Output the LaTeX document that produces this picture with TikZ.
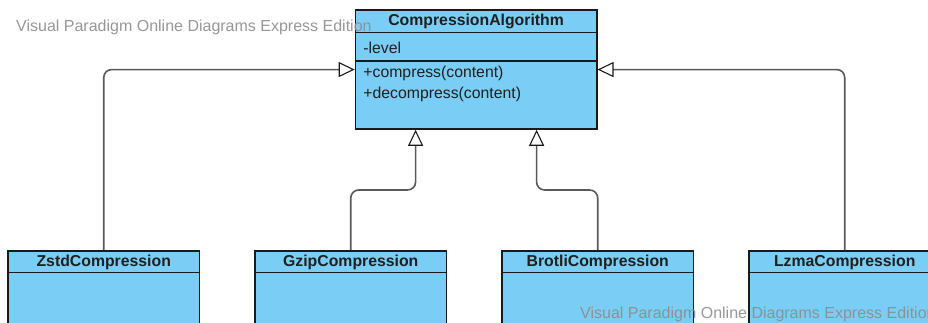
\documentclass[tikz,border=0pt]{standalone}
\usepackage{fontspec}
\setmainfont{Liberation Sans}
\usetikzlibrary{arrows.meta,calc}

\definecolor{classfill}{RGB}{122,206,245}
\definecolor{classedge}{RGB}{26,26,26}
\definecolor{linkgray}{RGB}{90,90,90}
\definecolor{markgray}{RGB}{140,140,140}

\tikzset{
  classbox/.style={draw=classedge, fill=classfill, line width=1.5pt,
    rectangle, inner sep=0pt, anchor=north west},
  divider/.style={draw=classedge, line width=1.5pt},
  titletext/.style={font=\fontsize{15.8}{18}\selectfont\bfseries,
    text=black!88, inner sep=0pt, anchor=base},
  membertext/.style={font=\fontsize{15.8}{18}\selectfont,
    text=black!88, inner sep=0pt, anchor=base west},
  inherit/.style={draw=linkgray, line width=1.6pt, rounded corners=8pt,
    -{Triangle[length=16pt, width=15pt, fill=white, color=classedge, line width=1.1pt]}},
  watermark/.style={font=\fontsize{16}{18}\selectfont, text=markgray,
    inner sep=0pt, anchor=base west, opacity=0.9}
}

\begin{document}
\begin{tikzpicture}[x=1pt, y=-1pt]
\useasboundingbox (0,0) rectangle (928,322);
\fill[white] (0,0) rectangle (928,322);
\clip (0,0) rectangle (928,322);

% abstract base class
\node[classbox, minimum width=241.3pt, minimum height=119pt] (ca) at (354.7,9.3) {};
\draw[divider] ($(ca.north west)+(0,23.4)$) -- ($(ca.north east)+(0,23.4)$);
\draw[divider] ($(ca.north west)+(0,51.7)$) -- ($(ca.north east)+(0,51.7)$);
\node[titletext] (ca-name) at ($(ca.north)+(0,16.2)$) {CompressionAlgorithm};
\node[membertext] (ca-attr) at ($(ca.north west)+(8.5,44.1)$) {-level};
\node[membertext] (ca-op1) at ($(ca.north west)+(8.5,67.7)$) {+compress(content)};
\node[membertext] (ca-op2) at ($(ca.north west)+(8.5,89.4)$) {+decompress(content)};

% concrete subclasses
\node[classbox, minimum width=191.4pt, minimum height=100pt] (zstd) at (7.3,250) {};
\node[classbox, minimum width=191.4pt, minimum height=100pt] (gzip) at (254.3,250) {};
\node[classbox, minimum width=191.4pt, minimum height=100pt] (brotli) at (501.3,250) {};
\node[classbox, minimum width=191.4pt, minimum height=100pt] (lzma) at (748.3,250) {};
\foreach \c/\t in {zstd/ZstdCompression, gzip/GzipCompression,
                   brotli/BrotliCompression, lzma/LzmaCompression}{
  \draw[divider] ($(\c.north west)+(0,22.7)$) -- ($(\c.north east)+(0,22.7)$);
  \node[titletext] (\c-name) at ($(\c.north)+(0,16.5)$) {\t};
}

% generalisation links
\coordinate (gtip) at ($(ca.south)+(-60.5,0)$);
\coordinate (btip) at ($(ca.south)+(60.5,0)$);
\draw[inherit] (zstd.north) |- (ca.west);
\draw[inherit] (lzma.north) |- (ca.east);
\draw[inherit] (gzip.north) -- ++(0,-60) -| (gtip);
\draw[inherit] (brotli.north) -- ++(0,-60) -| (btip);

% editor watermark
\node[watermark] (wm-top) at (16,31) {Visual Paradigm Online Diagrams Express Edition};
\node[watermark] (wm-bottom) at (580,318.8) {Visual Paradigm Online Diagrams Express Edition};
\end{tikzpicture}
\end{document}
